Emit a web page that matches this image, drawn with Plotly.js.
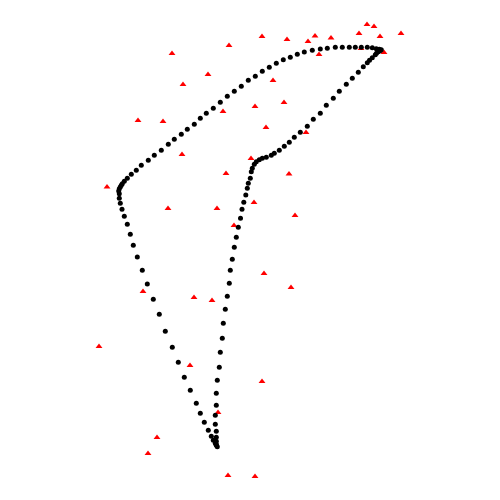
<!DOCTYPE html>
<html>
<head>
<meta charset="utf-8">
<script src="https://cdn.plot.ly/plotly-3.0.1.min.js"></script>
<style>html,body{margin:0;padding:0;background:#fff;}#chart{width:500px;height:500px;}</style>
</head>
<body>
<div id="chart"></div>
<script>
// Black dots (closed outline), x and y values
const curveX = [217.3,216.3,215.3,213.3,211.3,208.3,204.3,200.3,196.3,190.3,184.3,178.3,172.3,165.3,159.3,153.3,147.3,142.3,137.3,133.3,130.3,127.3,124.3,122,120.3,119.3,119.3,118.7,119.3,120.3,121.3,122.3,124.3,127.3,131.3,136.3,141.3,148.3,154.3,161.3,168.3,174.3,181.3,187.3,194.3,200.3,206.3,213.3,220.3,227.3,234.3,241.3,248.3,255.3,262.3,269.3,276.3,283.3,290.3,297.3,304.3,312.3,320.3,327.3,335.3,342.3,349.3,355.3,361.3,367.3,372.3,376.3,379.3,381.3,380,378.3,376.5,375.3,372.3,369.5,367.3,363.3,358.3,352.3,346.3,339.3,333.3,326.3,320.3,313.3,307.3,300.3,294.3,289.3,284.3,279.3,274.3,271.3,266.3,262.3,259.3,256.3,254.3,252.3,251.3,250.3,248.3,247.3,245.8,243.8,242,240.5,238.3,236.3,234.3,232.3,230.3,229.3,227.3,225.3,223.3,222.3,220.3,219.3,217.3,216.3,216.3,215.3,215.3,216.3,216.3,216.3,216.3];
const curveY = [446.7,445.3,443.3,440.3,436.3,430.3,422.3,413.3,403.3,390.3,377.3,362.3,347.3,331.3,314.3,299.3,284,270.3,257,245.3,234.3,224.3,216.3,209.3,203.3,198.3,193.7,191,188.7,187,185.3,183.7,181.3,178.3,174.3,170.3,165.3,160.3,155.3,150.3,144.3,139.3,134.3,129.3,124.3,118.3,113.3,108.3,102.3,96.3,91.3,86.3,80.3,76.3,71.3,67.3,63.3,59.7,57.3,54.3,52,50.3,49,48.3,47.3,47.3,47.3,47.3,47.3,47.3,47.7,48.7,49.3,49.7,50.7,51.7,53.2,54.7,57.7,60.2,62.7,66.7,72.3,78.3,84.3,91.3,98.3,105.3,113.3,119.3,126.3,132.3,137.3,142.3,146.3,150.3,153.3,155.3,157.3,158.3,159.7,161.7,164.3,168.3,171.7,178.3,183.3,188.3,195,202.3,209.3,218.3,227.3,237.3,247.3,259.3,270.3,283.3,296.3,309.3,323.3,338.3,352.3,367.3,380.3,393.3,405.3,415.3,424.3,431.3,437.3,441.3,444.3];

// Red triangles, x and y values
const scatterX = [172,229,208,183,223,138,163,182,226,262,287,308,315,331,359,367,374,380,401,384,361,319,273,255,284,266,306,251,289,107,168,217,234,143,194,212,254,295,264,291,99,190,262,218,157,148,228,255];
const scatterY = [53.5,45.5,74.5,84.5,111.5,120.5,121.5,154.5,173.5,36.5,39.5,41.5,36,38,33.5,24.5,26.5,36.5,33.5,52.5,48.5,54.5,80.5,106.5,102.5,127.5,132.5,158.5,174,187,208.5,208.5,225.5,291.5,297.5,300.5,202.5,215.5,273.5,287.5,346.5,365.5,381.5,412.5,437.5,453.5,475.5,476.5];

const traces = [
  {x: scatterX, y: scatterY, type: 'scatter', mode: 'markers',
   marker: {symbol: 'triangle-up', color: '#ff0000', size: 6}, hoverinfo: 'none'},
  {x: curveX, y: curveY, type: 'scatter', mode: 'markers',
   marker: {symbol: 'circle', color: '#000000', size: 5}, hoverinfo: 'none'}
];

const layout = {
  width: 500, height: 500,
  margin: {l: 0, r: 0, t: 0, b: 0},
  paper_bgcolor: '#ffffff', plot_bgcolor: '#ffffff',
  showlegend: false,
  xaxis: {range: [0, 500], visible: false, showgrid: false, zeroline: false},
  yaxis: {range: [500, 0], visible: false, showgrid: false, zeroline: false}
};

Plotly.newPlot('chart', traces, layout, {staticPlot: true});
</script>
</body>
</html>
